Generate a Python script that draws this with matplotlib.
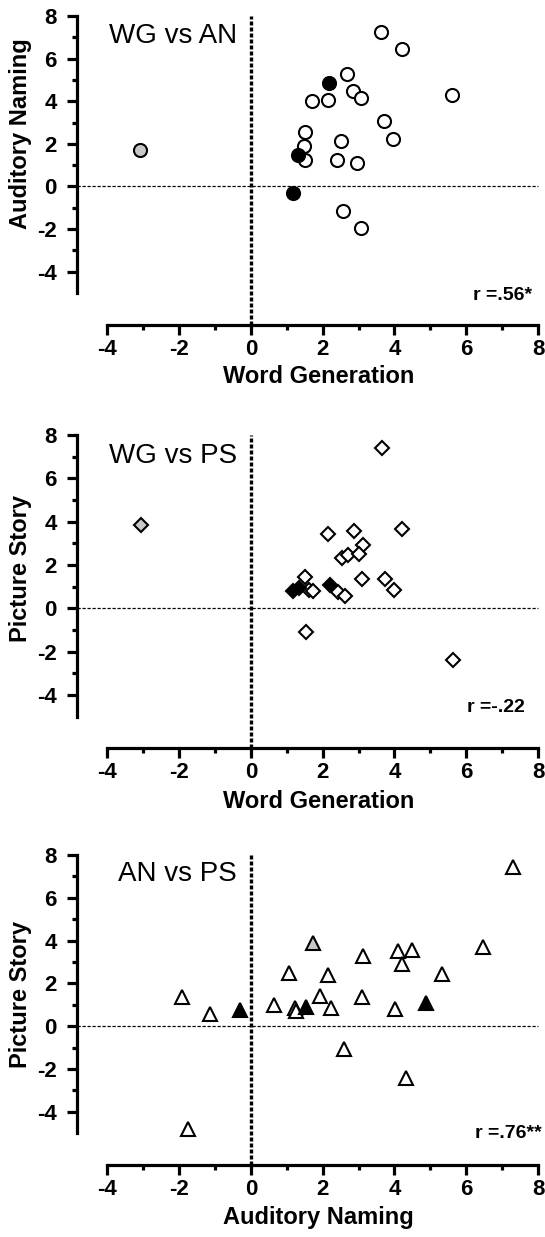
import matplotlib
matplotlib.use('Agg')
import matplotlib.pyplot as plt
from matplotlib.ticker import MultipleLocator, FixedLocator

plt.rcParams['font.family'] = ['Liberation Sans', 'DejaVu Sans']
plt.rcParams['axes.unicode_minus'] = False

# ---- data: WG vs AN (circles) ----
wg_an_open_x = [3.62, 4.20, 2.69, 2.84, 3.07, 1.69, 2.14, 5.61, 3.70, 3.96, 1.52, 1.47, 1.52, 2.51, 2.40, 2.97, 2.56, 3.08]
wg_an_open_y = [7.27, 6.44, 5.30, 4.47, 4.17, 4.00, 4.08, 4.28, 3.08, 2.22, 2.57, 1.91, 1.26, 2.14, 1.22, 1.08, -1.15, -1.95]
wg_an_fill_x = [2.18, 1.32, 1.18]
wg_an_fill_y = [4.85, 1.49, -0.33]
wg_an_gray_x = [-3.09]
wg_an_gray_y = [1.69]

# ---- data: WG vs PS (diamonds) ----
wg_ps_open_x = [3.65, 2.15, 2.86, 4.22, 3.12, 2.53, 2.71, 3.00, 3.09, 3.73, 4.00, 1.50, 1.61, 1.74, 2.42, 2.61, 1.53, 5.64]
wg_ps_open_y = [7.38, 3.45, 3.55, 3.66, 2.93, 2.33, 2.45, 2.52, 1.37, 1.37, 0.86, 1.46, 0.86, 0.81, 0.77, 0.55, -1.11, -2.39]
wg_ps_fill_x = [1.18, 1.35, 2.20]
wg_ps_fill_y = [0.78, 0.95, 1.10]
wg_ps_gray_x = [-3.07]
wg_ps_gray_y = [3.84]

# ---- data: AN vs PS (triangles) ----
an_ps_open_x = [7.31, 6.47, 3.13, 4.09, 4.50, 4.20, 5.33, 1.07, 2.14, -1.93, -1.14, 0.64, 1.23, 1.25, 1.92, 2.22, 3.11, 4.01, 2.60, 4.32, -1.76]
an_ps_open_y = [7.44, 3.71, 3.27, 3.52, 3.58, 2.90, 2.46, 2.51, 2.38, 1.37, 0.59, 0.98, 0.83, 0.72, 1.40, 0.83, 1.37, 0.81, -1.07, -2.40, -4.78]
an_ps_fill_x = [-0.31, 1.53, 4.87]
an_ps_fill_y = [0.78, 0.90, 1.09]
an_ps_gray_x = [1.72]
an_ps_gray_y = [3.89]

titles = ['WG vs AN', 'WG vs PS', 'AN vs PS']
xlabels = ['Word Generation', 'Word Generation', 'Auditory Naming']
ylabels = ['Auditory Naming', 'Picture Story', 'Picture Story']
r_texts = ['r =.56*', 'r =-.22', 'r =.76**']

W, H = 545, 1237
fig = plt.figure(figsize=(W / 100, H / 100), dpi=100)

# axes boxes in pixels: left, top, right, bottom
boxes = [(107.3, 16, 538, 293), (107.3, 435, 538, 716.7), (107.3, 855, 538, 1133.3)]
ylab_y = [0.574, 0.526, 0.497]
r_pos = [(0.986, -0.025), (0.970, 0.018), (1.009, -0.017)]

OFF_L = 30    # px
OFF_B = 31.5  # px


def draw_panel(ax, i, groups, marker, ms):
    ax.set_xlim(-4, 8)
    ax.set_ylim(-5, 8)
    for s in ['top', 'right']:
        ax.spines[s].set_visible(False)
    ax.spines['left'].set_position(('outward', OFF_L * 72 / 100))
    ax.spines['bottom'].set_position(('outward', OFF_B * 72 / 100))
    for s in ['left', 'bottom']:
        ax.spines[s].set_linewidth(2.3)
        ax.spines[s].set_capstyle('projecting')

    ax.xaxis.set_major_locator(MultipleLocator(2))
    ax.xaxis.set_minor_locator(FixedLocator([-3, -1, 1, 3, 5, 7]))
    ax.yaxis.set_major_locator(MultipleLocator(2))
    ax.yaxis.set_minor_locator(FixedLocator([-3, -1, 1, 3, 5, 7]))
    ax.tick_params(which='major', length=7.2, width=2.3)
    ax.tick_params(which='minor', length=3.6, width=2.3)
    ax.tick_params(axis='x', which='major', pad=3.0)
    ax.tick_params(axis='y', which='major', pad=7.5)
    for lab in ax.get_xticklabels() + ax.get_yticklabels():
        lab.set_fontweight('bold')
        lab.set_fontsize(16)

    ax.set_xlabel(xlabels[i], fontsize=17, fontweight='bold')
    ax.set_ylabel(ylabels[i], fontsize=17, fontweight='bold')
    ax.xaxis.set_label_coords(0.49, -0.26)
    ax.yaxis.set_label_coords(-0.175, ylab_y[i])

    # reference lines through zero, running out to the offset spines
    bbox = ax.get_position()
    wpx = bbox.width * W
    hpx = bbox.height * H
    ax.plot([0, 0], [-OFF_B / hpx, 1], transform=ax.get_xaxis_transform(),
            color='black', lw=2.4, ls=(0, (1.2, 0.6)), clip_on=False, zorder=1)
    ax.plot([-OFF_L / wpx, 1], [0, 0], transform=ax.get_yaxis_transform(),
            color='black', lw=0.9, ls=(0, (2.6, 1.4)), clip_on=False, zorder=1)

    for (xs, ys), fc in zip(groups, ['white', 'black', '#c8c8c8']):
        ax.plot(xs, ys, ls='none', marker=marker, ms=ms, mfc=fc, mec='black',
                mew=1.5, clip_on=False, zorder=3)

    ax.text(0.301, [0.9025, 0.90, 0.907][i], titles[i], transform=ax.transAxes,
            ha='right', va='baseline', fontsize=20)
    ax.text(r_pos[i][0], r_pos[i][1], r_texts[i], transform=ax.transAxes,
            ha='right', va='baseline', fontsize=14, fontweight='bold')


panels = [
    ([(wg_an_open_x, wg_an_open_y), (wg_an_fill_x, wg_an_fill_y), (wg_an_gray_x, wg_an_gray_y)], 'o', 9.4),
    ([(wg_ps_open_x, wg_ps_open_y), (wg_ps_fill_x, wg_ps_fill_y), (wg_ps_gray_x, wg_ps_gray_y)], 'D', 7.6),
    ([(an_ps_open_x, an_ps_open_y), (an_ps_fill_x, an_ps_fill_y), (an_ps_gray_x, an_ps_gray_y)], '^', 9.5),
]

for i, (l, t, r, b) in enumerate(boxes):
    ax = fig.add_axes([l / W, 1 - b / H, (r - l) / W, (b - t) / H])
    groups, marker, ms = panels[i]
    draw_panel(ax, i, groups, marker, ms)

fig.savefig('out.png', dpi=100)
